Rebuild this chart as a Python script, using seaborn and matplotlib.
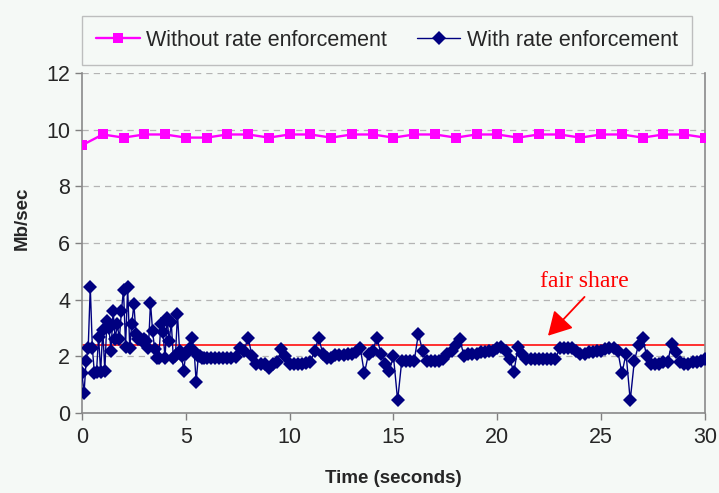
import numpy as np
import pandas as pd
import matplotlib
matplotlib.use("Agg")
import matplotlib.pyplot as plt
import seaborn as sns

# ---- data ----
without_t = list(range(0, 31))
without_v = [9.45, 9.83, 9.72, 9.83, 9.83, 9.72, 9.72, 9.83, 9.83, 9.72,
             9.83, 9.83, 9.72, 9.83, 9.83, 9.72, 9.83, 9.83, 9.72, 9.83,
             9.83, 9.72, 9.83, 9.83, 9.72, 9.83, 9.83, 9.72, 9.83, 9.83, 9.72]

# 0.0 .. 6.0 s every 0.1 s
with_a = [1.4, 0.7, 1.85, 2.3, 4.45, 2.3, 1.4, 1.45, 2.7, 1.45,
          2.95, 1.5, 3.25, 3.0, 2.2, 3.6, 2.6, 3.15, 2.6, 3.6,
          4.35, 2.35, 4.45, 2.3, 3.15, 3.85, 2.8, 2.6, 2.6, 2.55,
          2.6, 2.55, 2.3, 3.9, 2.9, 2.25, 1.95, 1.95, 3.15, 2.85,
          1.95, 3.35, 2.55, 3.2, 1.95, 2.0, 3.5, 2.2, 2.0, 1.5,
          2.1, 2.2, 2.3, 2.65, 2.2, 1.1, 2.0, 2.0, 1.95, 1.95,
          1.95]
# 6.2 .. 30.0 s every 0.2 s
with_b = [1.95, 1.95, 1.95, 1.95, 1.95,
          1.95, 1.97, 2.3, 2.2, 2.65,
          2.0, 1.75, 1.72, 1.75, 1.6,
          1.75, 1.8, 2.25, 2.0, 1.75,
          1.75, 1.75, 1.75, 1.78, 1.8,
          2.2, 2.65, 2.1, 1.95, 1.95,
          2.05, 2.05, 2.05, 2.1, 2.1,
          2.15, 2.3, 1.4, 2.1, 2.2,
          2.65, 2.1, 1.75, 1.5, 2.0,
          0.45, 1.85, 1.85, 1.85, 1.85,
          2.8, 2.2, 1.85, 1.85, 1.85,
          1.85, 1.9, 2.1, 2.2, 2.4,
          2.6, 2.0, 2.1, 2.1, 2.1,
          2.15, 2.15, 2.2, 2.2, 2.3,
          2.35, 2.2, 1.9, 1.45, 2.35,
          2.1, 1.9, 1.9, 1.9, 1.9,
          1.9, 1.9, 1.9, 1.9, 2.3,
          2.3, 2.3, 2.3, 2.2, 2.1,
          2.1, 2.15, 2.15, 2.2, 2.2,
          2.25, 2.3, 2.3, 2.2, 1.4,
          2.1, 0.45, 1.85, 2.4, 2.65,
          2.0, 1.75, 1.75, 1.75, 1.8,
          1.8, 2.45, 2.15, 1.8, 1.75,
          1.75, 1.8, 1.8, 1.85, 1.9]
with_t = list(np.round(np.arange(len(with_a)) * 0.1, 1)) + \
         list(np.round(6.2 + np.arange(len(with_b)) * 0.2, 1))
with_v = with_a + with_b

fair_share = 2.4
x_ticks = [0, 5, 10, 15, 20, 25, 30]
y_ticks = [0, 2, 4, 6, 8, 10, 12]

df_without = pd.DataFrame({"t": without_t, "v": without_v})
df_with = pd.DataFrame({"t": with_t, "v": with_v})

# ---- style ----
sns.set_style("ticks")
plt.rcParams["font.family"] = ["Liberation Sans", "DejaVu Sans"]
bg = "#f5f9f6"

fig = plt.figure(figsize=(7.19, 4.93), dpi=100, facecolor=bg)
ax = fig.add_axes([0.114, 0.162, 0.8665, 0.690])
ax.set_facecolor(bg)

ax.axhline(fair_share, color="#ff2020", lw=1.3, zorder=2)

sns.lineplot(data=df_without, x="t", y="v", ax=ax, color="#ff00ff", lw=1.7,
             marker="s", markersize=7, markeredgewidth=0, label="Without rate enforcement",
             zorder=4)
sns.lineplot(data=df_with, x="t", y="v", ax=ax, color="#000080", lw=1.0,
             marker="D", markersize=7.5, markeredgewidth=0, label="With rate enforcement",
             sort=False, zorder=3)

ax.set_xlim(0, 30)
ax.set_ylim(0, 12)
ax.set_xticks(x_ticks)
ax.set_yticks(y_ticks)
ax.tick_params(axis="both", labelsize=15.5, length=5, color="#808080", width=1)
ax.tick_params(axis="x", pad=5)
ax.yaxis.grid(True, ls=(0, (5, 4)), color="#b4b4b4", lw=0.9)
ax.set_axisbelow(True)
for s in ["left", "bottom", "right"]:
    ax.spines[s].set_color("#8a8a8a")
    ax.spines[s].set_linewidth(1.2)
ax.spines["top"].set_visible(False)

ax.set_xlabel("Time (seconds)", fontsize=13.5, fontweight="bold", labelpad=16)
ax.set_ylabel("Mb/sec", fontsize=13.5, fontweight="bold", labelpad=12)
ax.yaxis.set_label_coords(-0.083, 0.574)

ax.text(24.2, 4.65, "fair share", color="#ff0000", fontsize=17,
        family=["Liberation Serif", "DejaVu Serif"], ha="center", va="center")
ax.annotate("", xy=(22.44, 2.73), xytext=(24.2, 4.1),
            arrowprops=dict(arrowstyle="-|>,head_length=0.8,head_width=0.45",
                            color="#ff0000", lw=1.3, shrinkA=0, shrinkB=0,
                            mutation_scale=18))

leg = ax.legend(loc="center", bbox_to_anchor=(0.4896, 1.0956),
                ncol=2, fontsize=15.5, frameon=True, fancybox=False,
                handlelength=2.0, handletextpad=0.3, columnspacing=1.4,
                borderpad=0.65, borderaxespad=0)
leg.get_frame().set_edgecolor("#b0b0b0")
leg.get_frame().set_facecolor(bg)
leg.get_frame().set_linewidth(1.0)

fig.savefig("out.png", dpi=100, facecolor=bg)
